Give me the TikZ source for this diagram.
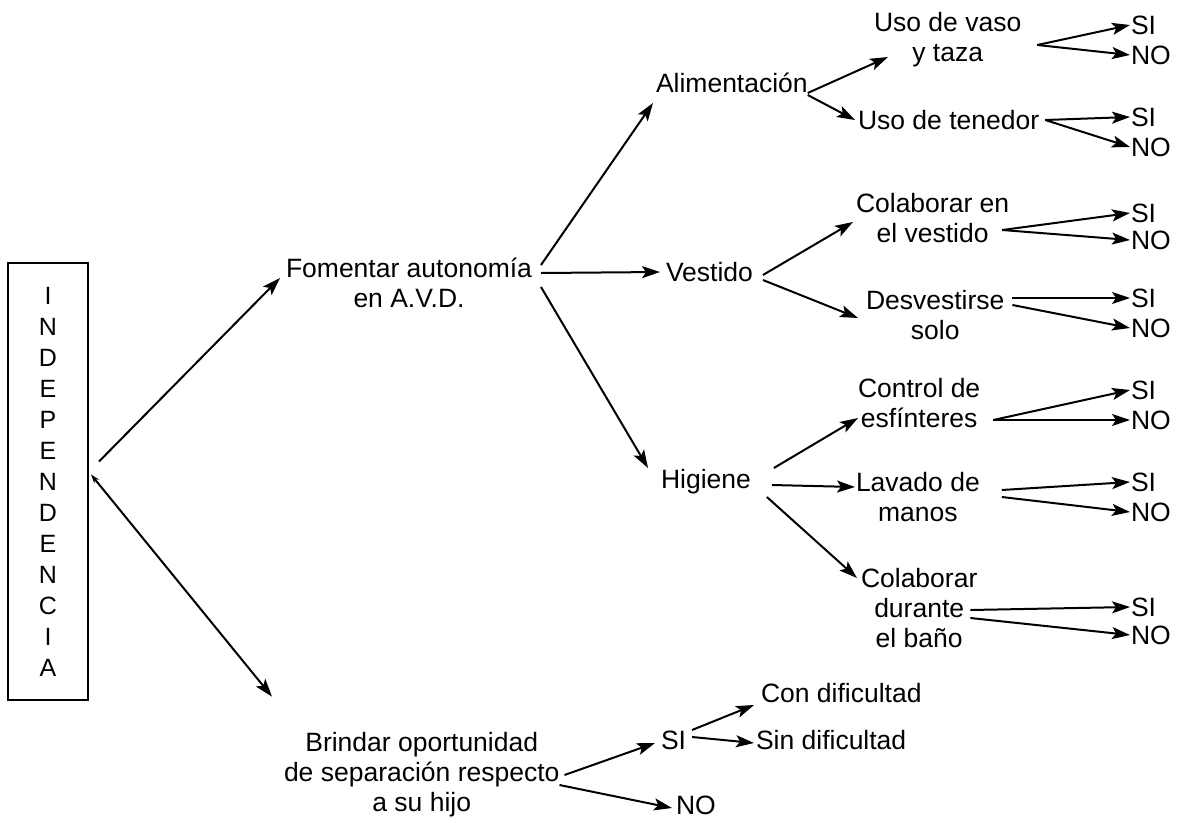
\documentclass[tikz,border=0pt]{standalone}
\usepackage{fontspec}
\setmainfont{Liberation Sans}
\usetikzlibrary{arrows.meta}

\begin{document}
\begin{tikzpicture}[x=1pt, y=-1pt,
		flecha/.style={-{Stealth[length=18pt,width=12pt,inset=4pt]}},
		every path/.style={line width=2pt},
		texto/.style={font=\fontsize{26.5}{30}\selectfont, align=center, inner sep=2pt, anchor=west},
		resp/.style={font=\fontsize{26.5}{30}\selectfont, inner sep=0pt, anchor=west}]

	\useasboundingbox (0,0) rectangle (1185,822);

	\node[draw, minimum width=80pt, minimum height=437pt, align=center, inner sep=0pt,
		font=\fontsize{25}{31}\selectfont] (indep) at (48,481.5) {I\\N\\D\\E\\P\\E\\N\\D\\E\\N\\C\\I\\A};

	\node[texto] (fomentar) at (283,283) {Fomentar autonomía\\en A.V.D.};
	\node[texto] (alim) at (653,83) {Alimentación};
	\node[texto] (vaso) at (871,40) {Uso de vaso\\y taza};
	\node[texto] (tenedor) at (855,120) {Uso de tenedor};
	\node[texto] (vestido) at (663,272) {Vestido};
	\node[texto] (colab1) at (853,218) {Colaborar en\\el vestido};
	\node[texto] (desvest) at (863,315) {Desvestirse\\solo};
	\node[texto] (higiene) at (658,482) {Higiene};
	\node[texto] (control) at (855,403) {Control de\\esfínteres};
	\node[texto] (lavado) at (853,497) {Lavado de\\manos};
	\node[texto] (colab2) at (858,608) {Colaborar\\durante\\el baño};
	\node[texto] (brindar) at (281,775) {Brindar oportunidad\\de separación respecto\\a su hijo};
	\node[resp] (si0) at (660,740) {SI};
	\node[resp] (no0) at (675,805) {NO};
	\node[resp] (con) at (760,693) {Con dificultad};
	\node[resp] (sin) at (755,740) {Sin dificultad};
	\foreach \i/\ys/\yn in {1/25/55, 2/117/147, 3/213/240, 4/298/328, 5/390/420, 6/482/512, 7/607/635} {
		\node[resp] (si\i) at (1130,\ys) {SI};
		\node[resp] (no\i) at (1130,\yn) {NO};
	}

	% desde independencia
	\draw[flecha] ([shift={(10pt,20pt)}]indep.east) -- ([shift={(-3pt,5pt)}]fomentar.west);
	\draw[{Stealth[length=9pt,width=6pt]}-{Stealth[length=18pt,width=12pt,inset=4pt]}] ([shift={(2pt,7pt)}]indep.east) -- ([shift={(-9pt,33pt)}]brindar.north west);

	% A.V.D.
	\draw[flecha] ([shift={(6pt,18pt)}]fomentar.east) -- ([shift={(0pt,-20pt)}]alim.west);
	\draw[flecha] ([shift={(6pt,10pt)}]fomentar.east) -- ([shift={(-3pt,0pt)}]vestido.west);
	\draw[flecha] ([shift={(6pt,-4pt)}]fomentar.east) -- ([shift={(-10pt,14pt)}]higiene.west);

	\draw[flecha] ([shift={(-3pt,-10pt)}]alim.east) -- ([shift={(17pt,-17pt)}]vaso.west);
	\draw[flecha] ([shift={(-3pt,-12pt)}]alim.east) -- (tenedor.west);
	\draw[flecha] ([shift={(13pt,-5pt)}]vaso.east) -- (si1.west);
	\draw[flecha] ([shift={(13pt,-5pt)}]vaso.east) -- (no1.west);
	\draw[flecha] ([shift={(3pt,0pt)}]tenedor.east) -- (si2.west);
	\draw[flecha] ([shift={(3pt,0pt)}]tenedor.east) -- (no2.west);

	\draw[flecha] ([shift={(7pt,-3pt)}]vestido.east) -- ([shift={(0pt,-4pt)}]colab1.west);
	\draw[flecha] ([shift={(7pt,-8pt)}]vestido.east) -- ([shift={(-5pt,-3pt)}]desvest.west);
	\draw[flecha] ([shift={(-10pt,-12pt)}]colab1.east) -- (si3.west);
	\draw[flecha] ([shift={(-10pt,-12pt)}]colab1.east) -- (no3.west);
	\draw[flecha] ([shift={(5pt,17pt)}]desvest.east) -- (si4.west);
	\draw[flecha] ([shift={(5pt,10pt)}]desvest.east) -- (no4.west);

	\draw[flecha] ([shift={(20pt,14pt)}]higiene.east) -- ([shift={(3pt,-15pt)}]control.west);
	\draw[flecha] ([shift={(18pt,-3pt)}]higiene.east) -- ([shift={(2pt,10pt)}]lavado.west);
	\draw[flecha] ([shift={(13pt,-15pt)}]higiene.east) -- ([shift={(-1pt,30pt)}]colab2.west);
	\draw[flecha] ([shift={(10pt,-17pt)}]control.east) -- (si5.west);
	\draw[flecha] ([shift={(10pt,-17pt)}]control.east) -- (no5.west);
	\draw[flecha] ([shift={(19pt,7pt)}]lavado.east) -- (si6.west);
	\draw[flecha] ([shift={(19pt,0pt)}]lavado.east) -- (no6.west);
	\draw[flecha] ([shift={(-10pt,-2pt)}]colab2.east) -- (si7.west);
	\draw[flecha] ([shift={(-10pt,-10pt)}]colab2.east) -- (no7.west);

	% separacion
	\draw[flecha] ([shift={(2pt,0pt)}]brindar.east) -- ([shift={(-5pt,-3pt)}]si0.west);
	\draw[flecha] ([shift={(-3pt,-10pt)}]brindar.east) -- ([shift={(-3pt,-3pt)}]no0.west);
	\draw[flecha] ([shift={(5pt,10pt)}]si0.east) -- ([shift={(-6pt,-12pt)}]con.west);
	\draw[flecha] ([shift={(5pt,3pt)}]si0.east) -- ([shift={(-1pt,-3pt)}]sin.west);
\end{tikzpicture}
\end{document}
